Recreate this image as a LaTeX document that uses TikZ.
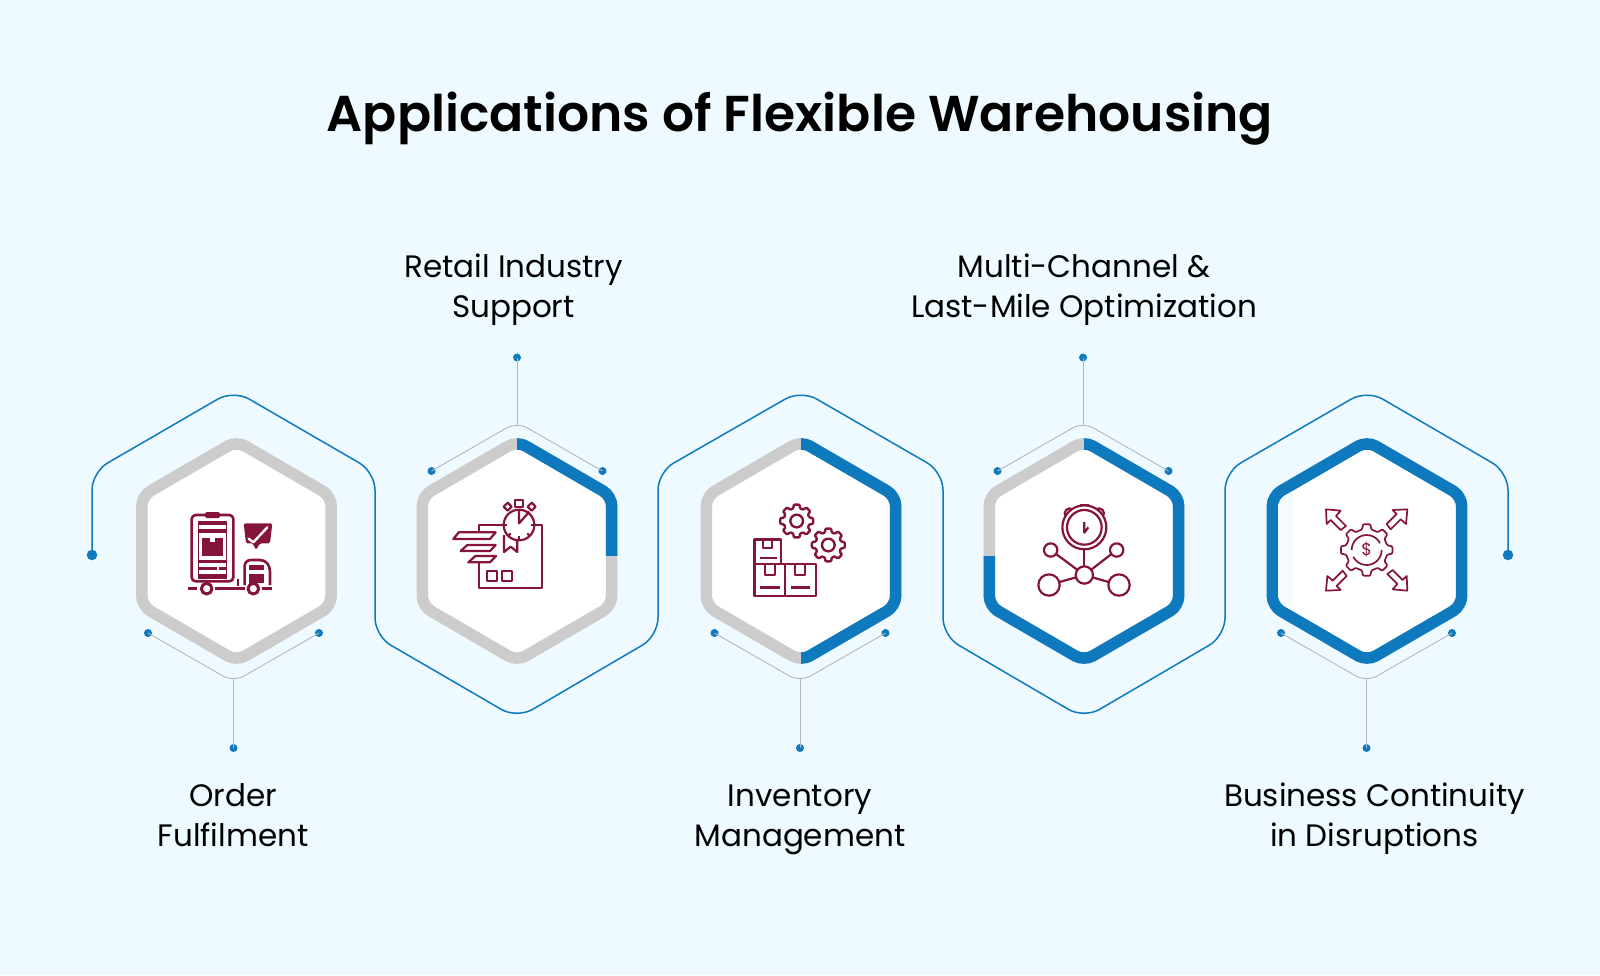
\documentclass[tikz,border=0pt]{standalone}
\usepackage{fontspec}
\setmainfont[BoldFont={Poppins SemiBold}]{Poppins}
\definecolor{bgc}{HTML}{EEFAFF}
\definecolor{blu}{HTML}{0F79BE}
\definecolor{gry}{HTML}{CCCCCC}
\definecolor{thn}{HTML}{B4B8BA}
\definecolor{mar}{HTML}{85143A}
\newcommand\ringshape{(0,-110) -- (94.7,-55) -- (94.7,55) -- (0,110) -- (-94.7,55) -- (-94.7,-55) -- cycle}
\tikzset{
  x=1pt,y=-1pt,
  ringgray/.style={draw=gry,fill=white,line width=11.5pt,rounded corners=10pt},
  ringblue/.style={draw=blu,line width=11.5pt,rounded corners=10pt},
  dotbig/.style={circle,fill=blu,inner sep=0pt,minimum size=10.5pt},
  dotsmall/.style={circle,fill=blu,inner sep=0pt,minimum size=8pt},
  flow/.style={draw=blu,line width=1.5pt,rounded corners=18pt},
  thinline/.style={draw=thn,line width=0.9pt},
  lab/.style={align=center,text=black,font=\fontsize{31}{40}\selectfont},
  ttl/.style={text=black,font=\fontsize{50.4}{60}\selectfont\bfseries},
  ic/.style={draw=mar,line width=2.2pt,line join=round},
  icf/.style={fill=mar},
  icw/.style={draw=mar,fill=white,line width=2.2pt,line join=round},
}
\newcommand\callout[3]{% name, centre x, top(-1)/bottom(1)
  \ifnum#3=1
    \node[dotsmall] (#1L) at (#2-85.5,633) {};
    \node[dotsmall] (#1R) at (#2+85.5,633) {};
    \node[dotsmall] (#1D) at (#2,748) {};
    \coordinate (#1A) at (#2,682);
    \coordinate (#1J) at (#2,678);
  \else
    \node[dotsmall] (#1L) at (#2-85.5,471) {};
    \node[dotsmall] (#1R) at (#2+85.5,471) {};
    \node[dotsmall] (#1D) at (#2,357.5) {};
    \coordinate (#1A) at (#2,422);
    \coordinate (#1J) at (#2,426);
  \fi
  \draw[thinline,rounded corners=12pt] (#1L.center) -- (#1A) -- (#1R.center);
  \draw[thinline] (#1J) -- (#1D.center);
}
\begin{document}
\begin{tikzpicture}
\useasboundingbox (0,0) rectangle (1600,975);
\fill[bgc] (0,0) rectangle (1600,975);

\node[ttl] (title) at (800,119) {Applications of Flexible Warehousing};

% flowing outline
\node[dotbig] (fs) at (92,555) {};
\node[dotbig] (fe) at (1508,555) {};
\coordinate (p1) at (92,472);
\coordinate (p2) at (233.5,390);
\coordinate (p3) at (375,472);
\coordinate (p4) at (375,636);
\coordinate (p5) at (517,718.5);
\coordinate (p6) at (658,636);
\coordinate (p7) at (658,472);
\coordinate (p8) at (801,390);
\coordinate (p9) at (943,472);
\coordinate (p10) at (943,636);
\coordinate (p11) at (1084,718.5);
\coordinate (p12) at (1225,636);
\coordinate (p13) at (1225,472);
\coordinate (p14) at (1367,390);
\coordinate (p15) at (1508,472);
\draw[flow] (fs.center) -- (p1) -- (p2) -- (p3) -- (p4) -- (p5) -- (p6) -- (p7) -- (p8) -- (p9) -- (p10) -- (p11) -- (p12) -- (p13) -- (p14) -- (p15) -- (fe.center);

% callouts
\callout{ca}{233.5}{1}
\callout{cb}{517}{-1}
\callout{cc}{800}{1}
\callout{cd}{1083}{-1}
\callout{ce}{1366.5}{1}

% rings
\coordinate (h1) at (236.5,551);
\coordinate (h2) at (517,551);
\coordinate (h3) at (801,551);
\coordinate (h4) at (1084,551);
\coordinate (h5) at (1367,551);
\begin{scope}[shift={(h1)}]
  \path[ringgray] \ringshape;
\end{scope}
\begin{scope}[shift={(h2)}]
  \path[ringgray] \ringshape;
  \begin{scope}
    \clip (0,-130) rectangle (130,4);
    \path[ringblue] \ringshape;
  \end{scope}
\end{scope}
\begin{scope}[shift={(h3)}]
  \path[ringgray] \ringshape;
  \begin{scope}
    \clip (0,-130) rectangle (130,130);
    \path[ringblue] \ringshape;
  \end{scope}
\end{scope}
\begin{scope}[shift={(h4)}]
  \path[ringgray] \ringshape;
  \begin{scope}
    \clip (0,-130) -- (130,-130) -- (130,130) -- (-130,130) -- (-130,5) -- (0,5) -- cycle;
    \path[ringblue] \ringshape;
  \end{scope}
\end{scope}
\begin{scope}[shift={(h5)}]
  \path[draw=blu,fill=white,line width=11.5pt,rounded corners=10pt] \ringshape;
  \begin{scope}
    \clip[rounded corners=8pt] (0,-103) -- (89,-51.5) -- (89,51.5) -- (0,103) -- (-89,51.5) -- (-89,-51.5) -- cycle;
    \fill[bgc!70!white] (-90,-60) rectangle (-74,60);
  \end{scope}
\end{scope}

% labels
\node[lab] (l1) at (233,818.5) {\strut Order\\\strut Fulfilment};
\node[lab] (l2) at (513.5,289.5) {\strut Retail Industry\\\strut Support};
\node[lab] (l3) at (800,818.5) {\strut Inventory\\\strut Management};
\node[lab] (l4) at (1084,289.5) {\strut Multi-Channel \&\\\strut Last-Mile Optimization};
\node[lab] (l5) at (1374.5,818.5) {\strut Business Continuity\\\strut in Disruptions};

% icon 1: clipboard truck
\begin{scope}[shift={(170,490)},scale=1/3]
  \draw[ic,line width=2.6pt,rounded corners=4pt] (65,75) rectangle (190,274);
  \fill[icf,rounded corners=1.5pt] (105,66) rectangle (150,84);
  \draw[ic,line width=1.6pt] (85,96) rectangle (170,265);
  \fill[icf] (85,96) rectangle (170,105);
  \fill[icf] (85,118) rectangle (170,128);
  \fill[icf] (97,145) rectangle (158,198);
  \fill[white] (120,145) rectangle (135,156);
  \fill[icf] (85,210) rectangle (170,218);
  \fill[icf] (85,230) rectangle (140,240);
  \fill[icf] (147,230) rectangle (170,240);
  \fill[icf] (85,252) rectangle (170,265);
  % bubble
  \fill[icf,rounded corners=1.5pt] (221,100) -- (307,100) -- (300,160) -- (270,160) -- (258,180) -- (248,160) -- (228,160) -- cycle;
  \draw[white,line width=2.4pt,line cap=round,line join=round] (236,146) -- (250,157) -- (292,112);
  % cab
  \draw[ic,line width=2.6pt,rounded corners=6pt] (224,285) -- (224,210) -- (270,210);
  \draw[ic,line width=2.6pt] (270,210) .. controls (288,210) and (300,225) .. (300,245) -- (300,285);
  \fill[icf] (238,225) rectangle (283,240);
  \fill[icf] (238,252) rectangle (283,278);
  \draw[ic] (205,268) -- (205,288);
  % chassis
  \draw[ic,line width=2.6pt] (54,296) -- (82,296);
  \draw[ic,line width=2.6pt] (135,296) -- (225,296);
  \draw[ic,line width=2.6pt] (276,296) -- (306,296);
  \draw[icw,line width=3pt] (110,296) circle[radius=16];
  \draw[icw,line width=3pt] (250,296) circle[radius=16];
\end{scope}

% icon 2: warehouse, signs and stopwatch
\begin{scope}[shift={(440,490)},scale=1/3]
  \draw[ic] (118,140) -- (118,105) -- (305,105) -- (305,295) -- (118,295) -- (118,200);
  \draw[icw] (56,127) -- (167,127) -- (150,147) -- (40,147) -- cycle;
  \draw[icw] (82,165) -- (167,165) -- (150,183) -- (62,183) -- cycle;
  \draw[icw] (106,198) -- (168,198) -- (150,217) -- (85,217) -- cycle;
  \draw[ic] (142,243) rectangle (172,272);
  \draw[ic] (185,243) rectangle (215,272);
  \draw[icw] (192,135) -- (192,186) -- (212,170) -- (232,186) -- (232,135);
  \draw[ic] (225,30) rectangle (250,52);
  \draw[ic] (203,38) -- (215,50) -- (203,62) -- (191,50) -- cycle;
  \draw[ic] (275,38) -- (287,50) -- (275,62) -- (263,50) -- cycle;
  \draw[icw] (237,105) circle[radius=46];
  \draw[ic] (237,62) -- (237,100) -- (268,65);
  \draw[ic] (237,138) -- (237,150);
  \draw[ic] (192,105) -- (202,105);
  \draw[ic] (272,105) -- (283,105);
  \draw[ic] (205,138) -- (212,130);
  \draw[ic] (269,138) -- (262,130);
\end{scope}

% icon 3: boxes and gears
\begin{scope}[shift={(735,490)},scale=1/3]
  \foreach \cx/\cy in {185/93,280/165}{
    \begin{scope}[shift={(\cx,\cy)}]
      \draw[ic,rounded corners=1pt,line width=2.4pt] (-15:39) \foreach \k in {0,45,...,315}{ -- ({\k-15}:39) -- ({\k-10}:50) -- ({\k+10}:50) -- ({\k+15}:39)} -- cycle;
      \draw[ic,line width=2.4pt] (0,0) circle[radius=19];
    \end{scope}
  }
  \draw[ic,line width=2.4pt] (58,148) rectangle (138,222);
  \draw[ic,line width=2.4pt] (58,222) rectangle (150,318);
  \draw[ic,line width=2.4pt] (150,222) rectangle (243,318);
  \draw[ic] (85,148) -- (85,175) -- (112,175) -- (112,148);
  \draw[ic] (90,222) -- (90,255) -- (120,255) -- (120,222);
  \draw[ic] (180,222) -- (180,255) -- (210,255) -- (210,222);
  \draw[ic] (75,205) -- (125,205);
  \draw[ic,line width=2.6pt] (76,292) -- (134,292);
  \draw[ic,line width=2.6pt] (167,292) -- (226,292);
\end{scope}

% icon 4: stopwatch network
\begin{scope}[shift={(1025,490)},scale=1/3]
  \draw[ic] (165,44) -- (191,44);
  \draw[ic] (178,44) -- (178,60);
  \draw[ic] (134,70) circle[radius=15];
  \draw[ic] (222,70) circle[radius=15];
  \draw[icw] (178,112) circle[radius=66];
  \draw[ic] (178,112) circle[radius=52];
  \draw[ic] (178,96) -- (178,128) -- (190,112);
  \draw[ic] (178,178) -- (178,230);
  \draw[ic] (178,255) -- (77,180);
  \draw[ic] (178,255) -- (275,180);
  \draw[ic] (178,255) -- (72,285);
  \draw[ic] (178,255) -- (282,285);
  \draw[icw] (178,255) circle[radius=26];
  \draw[icw] (77,180) circle[radius=20];
  \draw[icw] (275,180) circle[radius=20];
  \draw[icw] (72,285) circle[radius=32];
  \draw[icw] (282,285) circle[radius=32];
\end{scope}

% icon 5: gear with dollar and arrows
\begin{scope}[shift={(1300,490)},scale=1/3]
  \begin{scope}[shift={(200,180)}]
    \draw[ic,line width=1.7pt,rounded corners=1pt] (-13:63) \foreach \k in {0,45,...,315}{ -- ({\k-13}:63) -- ({\k-8}:78) -- ({\k+8}:78) -- ({\k+13}:63)} -- cycle;
    \draw[ic,line width=1.7pt,dash pattern=on 40pt off 7pt] (0,0) circle[radius=45];
    \node[text=mar,inner sep=0pt,font=\fontsize{17}{17}\selectfont] (dollar) at (0,0) {\$};
    \foreach \r in {0,90,180,270}{
      \draw[ic,line width=1.7pt,rotate=\r] (-122,-122) -- (-78,-118) -- (-92,-102) -- (-62,-72) -- (-78,-60) -- (-108,-90) -- (-120,-78) -- cycle;
    }
  \end{scope}
\end{scope}
\end{tikzpicture}
\end{document}
